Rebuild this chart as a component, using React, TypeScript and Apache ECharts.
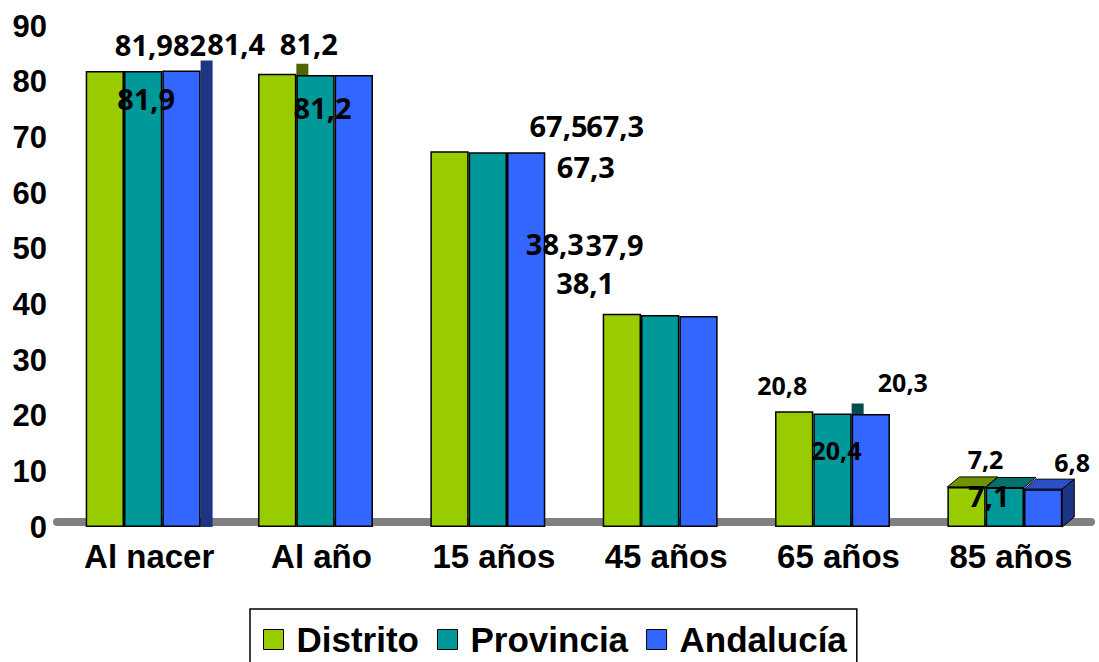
import React, { useEffect, useRef } from 'react';
import * as echarts from 'echarts';

const categories = ['Al nacer', 'Al año', '15 años', '45 años', '65 años', '85 años'];
const seriesNames = ['Distrito', 'Provincia', 'Andalucía'];
const distrito = [81.9, 81.4, 67.5, 38.3, 20.8, 7.2];
const provincia = [81.9, 81.2, 67.3, 38.1, 20.4, 7.1];
const andalucia = [82, 81.2, 67.3, 37.9, 20.3, 6.8];
const seriesValues = [distrito, provincia, andalucia];

const colors = ['#99CC00', '#009999', '#3366FF'];
const sideColors = ['#4D6600', '#004D4D', '#1C3585'];
const topColors = ['#6F9400', '#007070', '#2A4FC8'];

// label placement (style only): [dx, dy, fontSize] per series, per category
const labelPlacement = [
  [[39, -27, 29], [-41, -30, 29], [109, -26, 29], [-67, -70, 29], [-12, -26, 25], [19, -28, 25]],
  [[3, 27, 29], [7, 33, 29], [98, 14, 29], [-75, -32, 29], [4, 37, 25], [-16, 8, 29]],
  [[8, -26.5, 29], [-45, -31, 29], [89, -27, 29], [-84, -72, 29], [32, -32, 25], [29, -27, 25]],
];

// visible 3D faces of the original drawing: [categoryIndex, seriesIndex, face (0 strip, 1 top, 2 side)]
const depthFaces = [
  [0, 2, 0],
  [1, 0, 0],
  [4, 1, 0],
  [5, 0, 1],
  [5, 1, 1],
  [5, 2, 1],
  [5, 2, 2],
];

const fmt = (v: number) => String(v).replace('.', ',');

export default function App() {
  const ref = useRef<HTMLDivElement>(null);
  useEffect(() => {
    if (!ref.current) return;
    const chart = echarts.init(ref.current, undefined, { renderer: 'svg' });
    const gapFrac = 1 / 3;
    const barSeries = seriesNames.map((name, s) => ({
      name,
      type: 'bar',
      barGap: '0%',
      barCategoryGap: '33.3%',
      z: 2,
      itemStyle: { color: colors[s], borderColor: '#000', borderWidth: 1.5 },
      data: seriesValues[s].map((v, c) => {
        const [dx, dy, fs] = labelPlacement[s][c];
        return {
          value: v,
          label: {
            show: true,
            position: 'top',
            distance: 0,
            align: 'center',
            verticalAlign: 'middle',
            offset: [dx, dy],
            fontSize: fs,
            fontWeight: 'bold',
            fontFamily: '"Open Sans", sans-serif',
            color: '#000',
            formatter: () => fmt(v),
          },
        };
      }),
    }));
    const depthSeries = {
      type: 'custom',
      coordinateSystem: 'cartesian2d',
      z: 1,
      silent: true,
      data: depthFaces.map(([c, s, f]) => [c, seriesValues[s][c], s, f]),
      renderItem: (params: any, api: any) => {
        const cat = api.value(0);
        const v = api.value(1);
        const s = api.value(2);
        const face = api.value(3);
        const top = api.coord([cat, v]);
        const base = api.coord([cat, 0]);
        const band = api.size([1, 0])[0];
        const bw = (band * (1 - gapFrac)) / 3;
        const x0 = top[0] - 1.5 * bw + s * bw;
        const x1 = x0 + bw;
        const dx = 12;
        const dy = -10;
        let points;
        if (face === 0) {
          points = [[x1, top[1] + dy], [x1 + dx, top[1] + dy], [x1 + dx, base[1]], [x1, base[1]]];
        } else if (face === 1) {
          points = [[x0, top[1]], [x1, top[1]], [x1 + dx, top[1] + dy], [x0 + dx, top[1] + dy]];
        } else {
          points = [[x1, top[1]], [x1 + dx, top[1] + dy], [x1 + dx, base[1] + dy], [x1, base[1]]];
        }
        return {
          type: 'polygon',
          shape: { points },
          style: {
            fill: face === 1 ? topColors[s] : sideColors[s],
            stroke: face === 0 ? null : '#000',
            lineWidth: 1,
          },
        };
      },
    };
    chart.setOption({
      animation: false,
      grid: { left: 57, right: 8, top: 26, bottom: 135, containLabel: false },
      legend: {
        data: seriesNames,
        left: 250,
        top: 609,
        orient: 'horizontal',
        icon: 'rect',
        itemWidth: 20,
        itemHeight: 20,
        itemGap: 18,
        borderColor: '#000',
        borderWidth: 1.5,
        padding: [13, 10, 20, 13],
        itemStyle: { borderColor: '#000', borderWidth: 1 },
        textStyle: {
          fontSize: 35,
          lineHeight: 34,
          fontWeight: 'bold',
          fontFamily: 'Arial, "Liberation Sans", sans-serif',
          color: '#000',
          padding: [0, 0, 0, 8],
        },
      },
      xAxis: {
        type: 'category',
        data: categories,
        offset: -5,
        axisTick: { show: false },
        axisLine: { show: true, lineStyle: { color: '#808080', width: 8 } },
        axisLabel: {
          fontSize: 33,
          fontWeight: 'bold',
          fontFamily: 'Arial, "Liberation Sans", sans-serif',
          color: '#000',
          margin: 18,
          padding: [0, 0, 0, 12],
        },
      },
      yAxis: {
        type: 'value',
        min: 0,
        max: 90,
        interval: 10,
        splitLine: { show: false },
        axisLine: { show: false },
        axisTick: { show: false },
        axisLabel: {
          fontSize: 31,
          fontWeight: 'bold',
          fontFamily: 'Arial, "Liberation Sans", sans-serif',
          color: '#000',
          margin: 10,
          padding: [0, 0, 4, 0],
        },
      },
      series: [...barSeries, depthSeries],
    });
    return () => chart.dispose();
  }, []);
  return (
    <div
      ref={ref}
      style={{ position: 'fixed', left: 0, top: 0, width: 1099, height: 662, background: '#fff' }}
    />
  );
}
